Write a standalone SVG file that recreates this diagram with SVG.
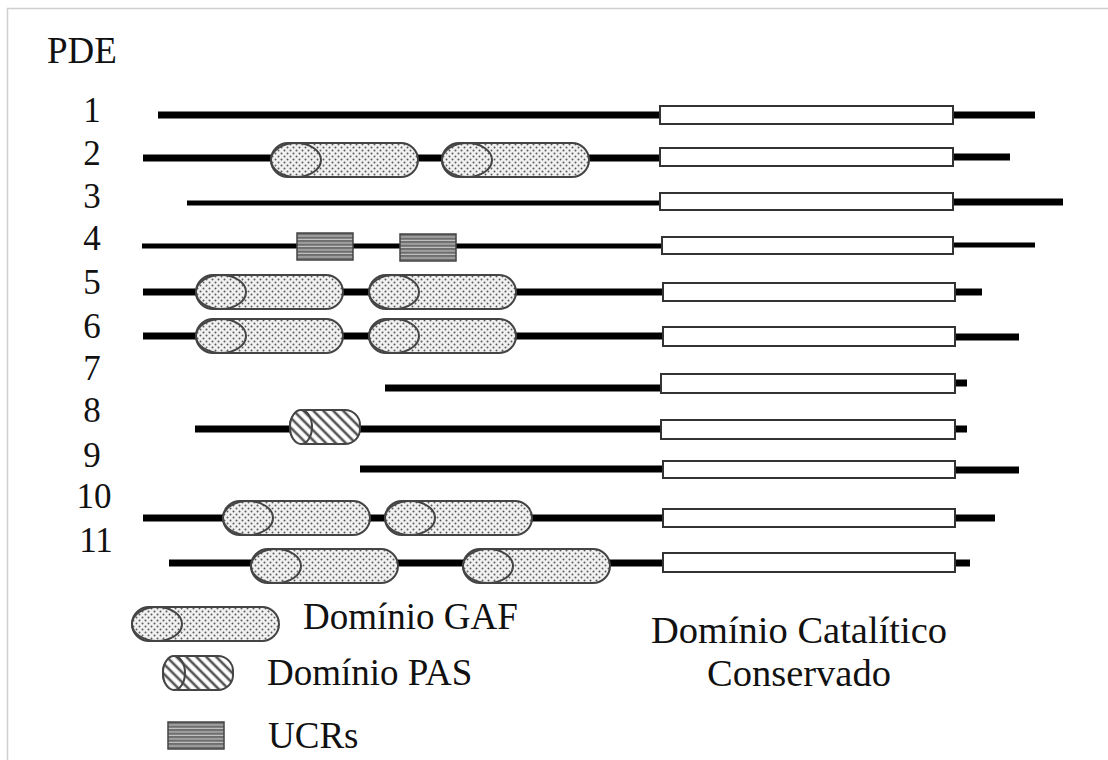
<svg xmlns="http://www.w3.org/2000/svg" xmlns:xlink="http://www.w3.org/1999/xlink" width="1108" height="760" viewBox="0 0 1108 760">
<style>
  text { font-family: "Liberation Serif", "Times New Roman", serif; fill: #111; }
  .num { font-size: 35px; text-anchor: middle; }
  .lbl { font-size: 37px; }
  .bb { stroke: #000; stroke-width: 7; fill: none; }
  .bbt { stroke: #000; stroke-width: 5; fill: none; }
  .cat { fill: #fff; stroke: #333; stroke-width: 2; }
  .dom { stroke: #444; stroke-width: 2; }
</style>
<defs>
  <pattern id="dots" patternUnits="userSpaceOnUse" width="6" height="6">
    <rect width="6" height="6" fill="#f1f1f1"/>
    <circle cx="1.5" cy="1.5" r="1" fill="#5a5a5a"/>
    <circle cx="4.5" cy="4.5" r="1" fill="#5a5a5a"/>
  </pattern>
  <pattern id="hatch" patternUnits="userSpaceOnUse" width="7" height="7" patternTransform="rotate(-45)">
    <rect width="7" height="7" fill="#fff"/>
    <line x1="2" y1="0" x2="2" y2="7" stroke="#555" stroke-width="2.6"/>
  </pattern>
  <pattern id="stripes" patternUnits="userSpaceOnUse" width="6" height="3.5">
    <rect width="6" height="3.5" fill="#6e6e6e"/>
    <rect y="2.4" width="6" height="1" fill="#cfcfcf"/>
  </pattern>
  <g id="gaf">
    <rect class="dom" x="0" y="0" width="147" height="34" rx="17" fill="url(#dots)"/>
    <ellipse class="dom" cx="25" cy="17" rx="25" ry="17" fill="url(#dots)"/>
  </g>
  <g id="pas">
    <rect class="dom" x="0" y="0" width="70" height="34" rx="15" fill="url(#hatch)"/>
    <ellipse class="dom" cx="11" cy="17" rx="11" ry="17" fill="url(#hatch)"/>
  </g>
  <g id="ucr">
    <rect x="0" y="0" width="56" height="27" fill="url(#stripes)" stroke="#444" stroke-width="1.5"/>
  </g>
</defs>

<rect x="0" y="0" width="1108" height="760" fill="#fff"/>
<path d="M7.5 760 V8.5 H1108" fill="none" stroke="#cfcfcf" stroke-width="1.5"/>

<text id="title" class="lbl" x="47" y="63">PDE</text>

<g id="row1">
  <text class="num" x="92" y="122">1</text>
  <line class="bb" x1="158" y1="115" x2="660" y2="115"/>
  <line class="bb" x1="953" y1="115" x2="1035" y2="115"/>
  <rect class="cat" x="660" y="106" width="293" height="18"/>
</g>
<g id="row2">
  <text class="num" x="92" y="165">2</text>
  <line class="bb" x1="143" y1="158" x2="660" y2="158"/>
  <line class="bb" x1="953" y1="157" x2="1010" y2="157"/>
  <use xlink:href="#gaf" x="271" y="143"/>
  <use xlink:href="#gaf" x="442" y="143"/>
  <rect class="cat" x="660" y="148" width="293" height="18"/>
</g>
<g id="row3">
  <text class="num" x="92" y="208">3</text>
  <line class="bbt" x1="187" y1="203" x2="660" y2="203"/>
  <line class="bb" x1="953" y1="202" x2="1063" y2="202"/>
  <rect class="cat" x="660" y="193" width="293" height="17"/>
</g>
<g id="row4">
  <text class="num" x="92" y="250">4</text>
  <line class="bbt" x1="142" y1="246" x2="662" y2="246"/>
  <line class="bbt" x1="953" y1="245" x2="1035" y2="245"/>
  <use xlink:href="#ucr" x="297" y="233"/>
  <use xlink:href="#ucr" x="400" y="234"/>
  <rect class="cat" x="662" y="237" width="291" height="17"/>
</g>
<g id="row5">
  <text class="num" x="92" y="294">5</text>
  <line class="bb" x1="143" y1="292" x2="663" y2="292"/>
  <line class="bb" x1="955" y1="292" x2="982" y2="292"/>
  <use xlink:href="#gaf" x="196" y="275"/>
  <use xlink:href="#gaf" x="369" y="275"/>
  <rect class="cat" x="663" y="283" width="292" height="18"/>
</g>
<g id="row6">
  <text class="num" x="92" y="338">6</text>
  <line class="bb" x1="143" y1="336" x2="663" y2="336"/>
  <line class="bb" x1="955" y1="337" x2="1019" y2="337"/>
  <use xlink:href="#gaf" x="196" y="319"/>
  <use xlink:href="#gaf" x="369" y="319"/>
  <rect class="cat" x="663" y="327" width="292" height="19"/>
</g>
<g id="row7">
  <text class="num" x="92" y="380">7</text>
  <line class="bb" x1="385" y1="388" x2="661" y2="388"/>
  <line class="bb" x1="955" y1="383" x2="967" y2="383"/>
  <rect class="cat" x="661" y="374" width="294" height="19"/>
</g>
<g id="row8">
  <text class="num" x="92" y="422">8</text>
  <line class="bb" x1="195" y1="429" x2="661" y2="429"/>
  <line class="bb" x1="955" y1="429" x2="967" y2="429"/>
  <use xlink:href="#pas" x="290" y="410"/>
  <rect class="cat" x="661" y="420" width="294" height="19"/>
</g>
<g id="row9">
  <text class="num" x="92" y="467">9</text>
  <line class="bb" x1="360" y1="469" x2="663" y2="469"/>
  <line class="bb" x1="955" y1="470" x2="1019" y2="470"/>
  <rect class="cat" x="663" y="461" width="292" height="17"/>
</g>
<g id="row10">
  <text class="num" x="94" y="508">10</text>
  <line class="bb" x1="143" y1="518" x2="663" y2="518"/>
  <line class="bb" x1="955" y1="518" x2="995" y2="518"/>
  <use xlink:href="#gaf" x="223" y="501"/>
  <use xlink:href="#gaf" x="385" y="501"/>
  <rect class="cat" x="663" y="509" width="292" height="18"/>
</g>
<g id="row11">
  <text class="num" x="96" y="552">11</text>
  <line class="bb" x1="169" y1="563" x2="663" y2="563"/>
  <line class="bb" x1="955" y1="563" x2="970" y2="563"/>
  <use xlink:href="#gaf" x="251" y="549"/>
  <use xlink:href="#gaf" x="463" y="549"/>
  <rect class="cat" x="663" y="553" width="292" height="19"/>
</g>

<g id="legend-gaf">
  <use xlink:href="#gaf" x="132" y="607"/>
  <text class="lbl" x="303" y="629">Domínio GAF</text>
</g>
<g id="legend-pas">
  <use xlink:href="#pas" x="163" y="656"/>
  <text class="lbl" x="267" y="685">Domínio PAS</text>
</g>
<g id="legend-ucr">
  <use xlink:href="#ucr" x="168" y="722"/>
  <text class="lbl" x="268" y="748">UCRs</text>
</g>
<g id="legend-cat">
  <text x="799" y="643" font-size="38.5" text-anchor="middle">Domínio Catalítico</text>
  <text x="799" y="686" font-size="38.5" text-anchor="middle">Conservado</text>
</g>
</svg>
